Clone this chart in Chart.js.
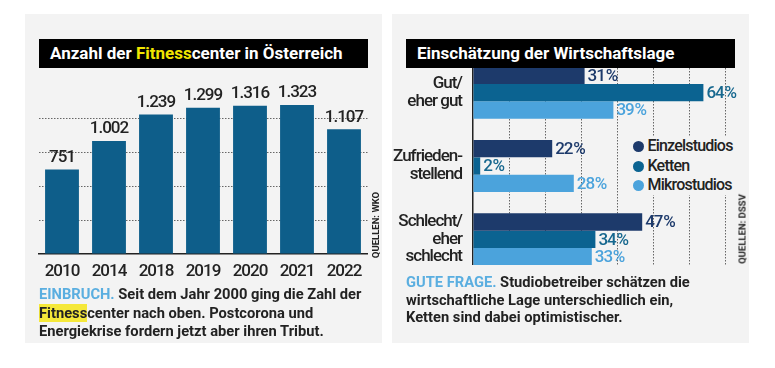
<!DOCTYPE html>
<html lang="de">
<head>
<meta charset="utf-8">
<script src="https://cdn.jsdelivr.net/npm/chart.js@4.4.0/dist/chart.umd.min.js"></script>
<style>
body { margin:0; background:#fff; width:775px; height:368px; position:relative; overflow:hidden;
  font-family:Roboto, 'Liberation Sans', sans-serif; color:#222; }
.panel { position:absolute; top:14px; width:357px; height:329px; background:#f3f3f3; }
.title { position:absolute; left:14px; top:25px; width:329px; height:29px; background:#000; color:#fff; white-space:nowrap;
  font-weight:bold; font-size:17px; line-height:29px; padding-left:11px; box-sizing:border-box; z-index:2; }
.hl { color:#f2e600; }
.caption { position:absolute; font-weight:bold; font-size:14.7px; white-space:nowrap; }
.kicker { color:#5aaee0; }
.mark { background:#f5e83a; }
.source { position:absolute; font-size:9.5px; font-weight:bold; white-space:nowrap;
  transform:translate(-50%,-50%) rotate(-90deg); }
.clip { position:absolute; left:0; top:36px; width:357px; height:215px; overflow:hidden; }
.legend { position:absolute; left:240px; top:122px; width:103px; background:#f3f3f3; font-size:16px; font-weight:500;
  letter-spacing:-0.8px; z-index:1; }
.legend div { height:19.5px; line-height:19.5px; white-space:nowrap; }
.legend span { display:inline-block; width:11px; height:11px; border-radius:50%; margin:0 4px 0 0.5px; vertical-align:-1px; }
</style>
</head>
<body>
<div class="panel" style="left:25px">
  <div class="title">Anzahl der <span class="hl">Fitness</span>center in Österreich</div>
  <canvas id="left" width="357" height="220" style="position:absolute;left:0;top:54px"></canvas>
  <div class="source" style="left:350px;top:211px">QUELLEN: WKO</div>
  <div class="caption" style="left:14px;top:271px;line-height:18.5px">
    <span class="kicker">EINBRUCH.</span> Seit dem Jahr 2000 ging die Zahl der<br>
    <span class="mark">Fitness</span>center nach oben. Postcorona und<br>
    Energiekrise fordern jetzt aber ihren Tribut.
  </div>
</div>
<div class="panel" style="left:392px">
  <div class="title">Einschätzung der Wirtschaftslage</div>
  <div class="clip"><canvas id="right" width="357" height="232"></canvas></div>
  <div class="legend" id="legend"></div>
  <div class="source" style="left:350px;top:215px">QUELLEN: DSSV</div>
  <div class="caption" style="left:14px;top:260px;line-height:17.5px">
    <span class="kicker">GUTE FRAGE.</span> Studiobetreiber schätzen die<br>
    wirtschaftliche Lage unterschiedlich ein,<br>
    Ketten sind dabei optimistischer.
  </div>
</div>
<script>
Chart.defaults.font.family = "Roboto, 'Liberation Sans', sans-serif";

// left chart: number of fitness centers
const years = ['2010', '2014', '2018', '2019', '2020', '2021', '2022'];
const centers = [751, 1002, 1239, 1299, 1316, 1323, 1107];
const centerTicks = [0, 300, 600, 900, 1200, 1500];

// right chart: assessment of the economic situation (%)
const ratings = [['Gut/', 'eher gut'], ['Zufrieden-', 'stellend'], ['Schlecht/', 'eher', 'schlecht']];
const einzelstudios = [31, 22, 47];
const ketten = [64, 2, 34];
const mikrostudios = [39, 28, 33];
const percentTicks = [0, 10, 20, 30, 40, 50, 60, 70];

const seriesNames = ['Einzelstudios', 'Ketten', 'Mikrostudios'];
const seriesColors = ['#1d3a6b', '#0b6391', '#4ba3dc'];
const labelColors = ['#1d3a6b', '#17688f', '#4ba3dc'];

const LABEL_FONT = "500 17px Roboto, 'Liberation Sans', sans-serif";

function thousands(v) {
    return String(v).replace(/\B(?=(\d{3})+(?!\d))/g, '.');
}

// tighter letters, the original uses a condensed face
const tightText = {
    id: 'tightText',
    beforeDraw(chart) {
        chart.ctx.letterSpacing = '-1px';
    }
};

const valueLabels = {
    id: 'valueLabels',
    afterDatasetsDraw(chart, args, opts) {
        const ctx = chart.ctx;
        ctx.save();
        ctx.font = LABEL_FONT;
        chart.data.datasets.forEach((ds, i) => {
            chart.getDatasetMeta(i).data.forEach((bar, j) => {
                const v = ds.data[j];
                ctx.fillStyle = opts.colors ? opts.colors[i] : '#222';
                ctx.textBaseline = 'middle';
                if (opts.horizontal) {
                    ctx.textAlign = 'left';
                    ctx.fillText(v + '\u200a%', bar.x + 3, bar.y + 1);
                } else {
                    ctx.textAlign = 'center';
                    ctx.fillText(thousands(v), bar.x, bar.y - 12);
                }
            });
        });
        ctx.restore();
    }
};

new Chart(document.getElementById('left'), {
    type: 'bar',
    data: {
        labels: years,
        datasets: [{
            data: centers,
            backgroundColor: '#0e5e8a',
            barPercentage: 0.72,
            categoryPercentage: 1
        }]
    },
    options: {
        responsive: false,
        animation: false,
        layout: { padding: { left: 13.5, right: 14.5, top: 17, bottom: 6 } },
        plugins: {
            legend: { display: false },
            tooltip: { enabled: false },
            valueLabels: {}
        },
        scales: {
            x: {
                grid: { display: false, drawTicks: false },
                border: { color: '#222', width: 1.5 },
                ticks: { color: '#222', font: { size: 17, weight: 500 }, padding: 8 },
                afterFit: s => { s.height = 28; s.paddingLeft = 0; s.paddingRight = 0; }
            },
            y: {
                min: centerTicks[0],
                max: centerTicks[centerTicks.length - 1],
                afterBuildTicks: s => { s.ticks = centerTicks.map(v => ({ value: v })); },
                ticks: { display: false },
                border: { display: false, dash: [1.5, 1.5] },
                grid: {
                    drawTicks: false,
                    lineWidth: 1,
                    color: c => (c.tick.value === 0 || c.tick.value === 1500) ? 'rgba(0,0,0,0)' : '#666'
                },
                afterFit: s => { s.width = 0; s.paddingTop = 0; s.paddingBottom = 0; }
            }
        }
    },
    plugins: [tightText, valueLabels]
});

new Chart(document.getElementById('right'), {
    type: 'bar',
    data: {
        labels: ratings,
        datasets: [einzelstudios, ketten, mikrostudios].map((d, i) => ({
            label: seriesNames[i],
            data: d,
            backgroundColor: seriesColors[i],
            barPercentage: 1,
            categoryPercentage: 0.71
        }))
    },
    options: {
        indexAxis: 'y',
        responsive: false,
        animation: false,
        layout: { padding: { left: 0, right: 24, top: 6, bottom: 6 } },
        plugins: {
            legend: { display: false },
            tooltip: { enabled: false },
            valueLabels: { colors: labelColors, horizontal: true }
        },
        scales: {
            x: {
                min: percentTicks[0],
                max: percentTicks[percentTicks.length - 1],
                afterBuildTicks: s => { s.ticks = percentTicks.map(v => ({ value: v })); },
                ticks: { display: false },
                border: { display: false, dash: [1.5, 1.5] },
                grid: {
                    drawTicks: false,
                    lineWidth: 1,
                    color: c => c.tick.value === 0 ? 'rgba(0,0,0,0)' : '#666'
                },
                afterFit: s => { s.height = 0; s.paddingLeft = 0; s.paddingRight = 0; }
            },
            y: {
                grid: { display: false },
                border: { color: '#222', width: 1.5 },
                ticks: { color: '#222', font: { size: 17, weight: 500, lineHeight: 1.05 }, padding: 3 },
                afterFit: s => { s.width = 81; s.paddingTop = 0; s.paddingBottom = 0; }
            }
        }
    },
    plugins: [tightText, valueLabels]
});

document.getElementById('legend').innerHTML = seriesNames
    .map((n, i) => `<div><span style="background:${seriesColors[i]}"></span>${n}</div>`)
    .join('');
</script>
</body>
</html>
